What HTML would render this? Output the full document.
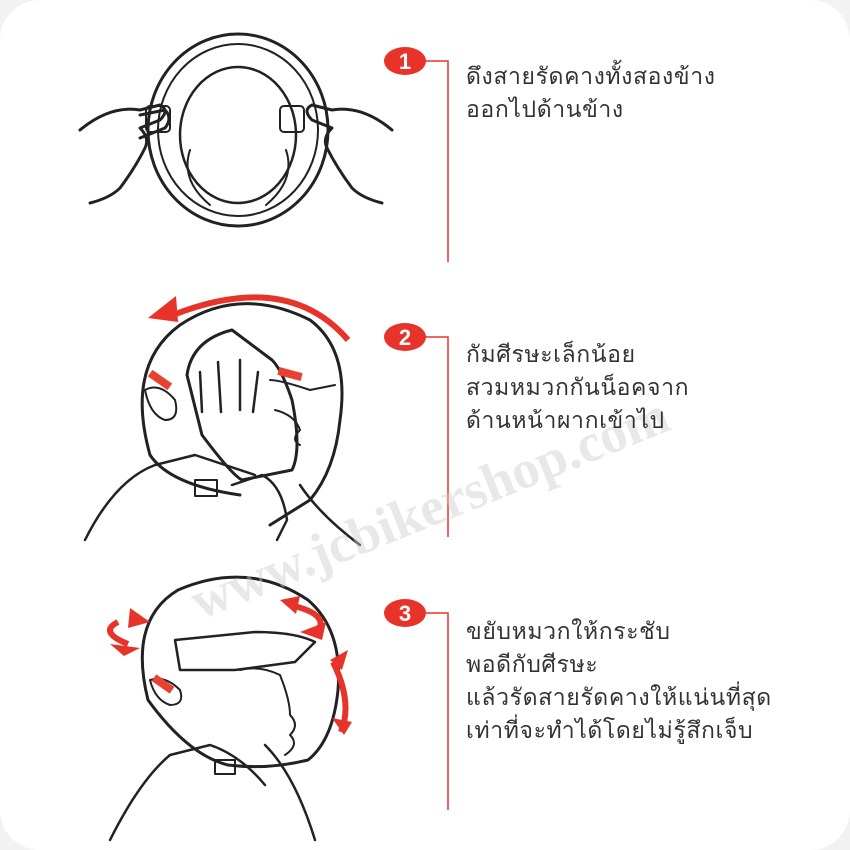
<!DOCTYPE html>
<html><head><meta charset="utf-8"><style>
html,body{margin:0;padding:0;background:#f2f2f2;}
.page{position:relative;width:850px;height:850px;background:#fff;border-radius:40px;overflow:hidden;font-family:"Liberation Sans","Noto Sans CJK SC",sans-serif;}
.t{position:absolute;left:466px;font-size:23px;letter-spacing:0.6px;color:#333;line-height:33px;font-family:"Liberation Sans","Noto Sans CJK SC","WenQuanYi Zen Hei",sans-serif;}
svg{position:absolute;left:0;top:0}
</style></head><body><div class="page">
<svg width="850" height="850" viewBox="0 0 850 850">
<g fill="none" stroke="#222" stroke-width="3" stroke-linecap="round" stroke-linejoin="round">
<ellipse cx="238" cy="130" rx="90" ry="96"/>
<ellipse cx="238" cy="130" rx="80" ry="86" stroke-width="2"/>
<ellipse cx="238" cy="135" rx="58" ry="68" stroke-width="2.5"/>
<path d="M190 150 q-10 30 20 55 M286 150 q10 30 -20 55" stroke-width="2"/>
<path d="M80 130 q30 -25 60 -20 l20 -5 q10 5 0 15 l-20 8 q10 10 5 20 q-10 20 -25 40 q-10 10 -30 15"/>
<path d="M140 115 l25 -5 q8 8 0 18 l-25 10"/>
<rect x="146" y="106" width="24" height="26" rx="4" stroke-width="2"/>
<path d="M392 130 q-30 -25 -60 -20 l-20 -5 q-10 5 0 15 l20 8 q-10 10 -5 20 q10 20 25 40 q10 10 30 15"/>
<rect x="280" y="106" width="24" height="26" rx="4" stroke-width="2"/>
<path d="M150 455 q-25 -90 30 -130 q60 -40 130 -5 q40 30 30 100 q-5 50 -30 80 l-40 25"/>
<path d="M150 455 q20 30 90 40"/>
<path d="M232 330 q-40 10 -45 45 q10 40 15 60 q30 40 40 45 l50 -10 q10 -20 0 -70 q-10 -30 -20 -40 z" fill="#fff"/>
<path d="M200 372 l2 40 M218 362 l3 50 M240 360 l0 50 M258 372 l-5 40" stroke-width="2.5"/>
<path d="M270 380 q10 0 40 10 l25 -5 M275 410 q20 5 25 20 q-10 10 0 15" stroke-width="2"/>
<path d="M145 390 q15 -8 30 10 q5 20 -10 20 q-15 -5 -20 -30 z" stroke-width="2"/>
<path d="M85 540 q30 -60 70 -75 l40 -10 q30 10 60 20 M232 485 l30 -10 q20 10 25 45 l-10 20 M300 485 q20 30 60 60" stroke-width="2.5"/>
<rect x="195" y="480" width="22" height="16" stroke-width="2"/>
<path d="M148 700 q-20 -80 30 -110 q70 -30 130 10 q35 30 30 90 q-5 50 -30 70 q-40 10 -80 5 q-40 -10 -80 -65 z"/>
<path d="M175 640 l5 30 l55 0 l60 -8 l20 -20 q-20 -10 -60 -10 z" stroke-width="2.5"/>
<path d="M240 670 q20 -5 40 5 q10 25 10 40 q10 10 0 20 q10 10 -5 20" stroke-width="2"/>
<path d="M150 680 q15 -5 30 10 q5 15 -10 15 q-15 -5 -20 -25 z" stroke-width="2"/>
<path d="M110 840 q30 -60 60 -85 l40 -10 q30 10 55 40 M265 745 q30 30 50 95" stroke-width="2.5"/>
<rect x="215" y="760" width="20" height="14" stroke-width="2"/>
</g>
<g fill="#e8412f" stroke="none">
<rect x="148" y="376" width="24" height="8" transform="rotate(35 160 380)"/>
<rect x="278" y="370" width="24" height="8" transform="rotate(15 290 374)"/>
<rect x="152" y="680" width="22" height="8" transform="rotate(35 163 684)"/>
</g>
<g fill="none" stroke="#e8332a" stroke-width="6">
<path d="M348 340 q-60 -70 -175 -25"/>
<path d="M118 622 q-20 10 10 22 M290 605 q35 8 30 22 M333 662 q20 40 8 70"/>
</g>
<g fill="#e8332a">
<polygon points="148,318 176,296 178,322"/>
<polygon points="130,608 150,622 128,628"/>
<polygon points="110,644 140,648 124,656"/>
<polygon points="280,600 300,596 296,614"/>
<polygon points="300,632 326,622 322,640"/>
<polygon points="330,660 348,650 342,670"/>
<polygon points="344,735 332,718 352,722"/>
</g>
<g stroke="#e8332a" stroke-width="1.5" fill="none">
<polyline points="425,61 448,61 448,262"/>
<polyline points="425,337 448,337 448,537"/>
<polyline points="425,613 448,613 448,810"/>
</g>
<g fill="#e8332a">
<ellipse cx="405" cy="61" rx="21" ry="14"/>
<ellipse cx="405" cy="337" rx="21" ry="14"/>
<ellipse cx="405" cy="613" rx="21" ry="14"/>
</g>
<g fill="#fff" font-family="Liberation Sans, sans-serif" font-weight="bold" font-size="22" text-anchor="middle">
<text x="405" y="69">1</text><text x="405" y="345">2</text><text x="405" y="621">3</text>
</g>
<text x="200" y="620" transform="rotate(-22 200 620)" font-family="Liberation Serif, serif" font-weight="bold" font-size="54" fill="#ccc" fill-opacity="0.45">www.jcbikershop.com</text>
</svg>
<div class="t" style="top:60px">ดึงสายรัดคางทั้งสองข้าง<br>ออกไปด้านข้าง</div>
<div class="t" style="top:338px">กัมศีรษะเล็กน้อย<br>สวมหมวกกันน็อคจาก<br>ด้านหน้าผากเข้าไป</div>
<div class="t" style="top:615px">ขยับหมวกให้กระชับ<br>พอดีกับศีรษะ<br>แล้วรัดสายรัดคางให้แน่นที่สุด<br>เท่าที่จะทำได้โดยไม่รู้สึกเจ็บ</div>
</div></body></html>
